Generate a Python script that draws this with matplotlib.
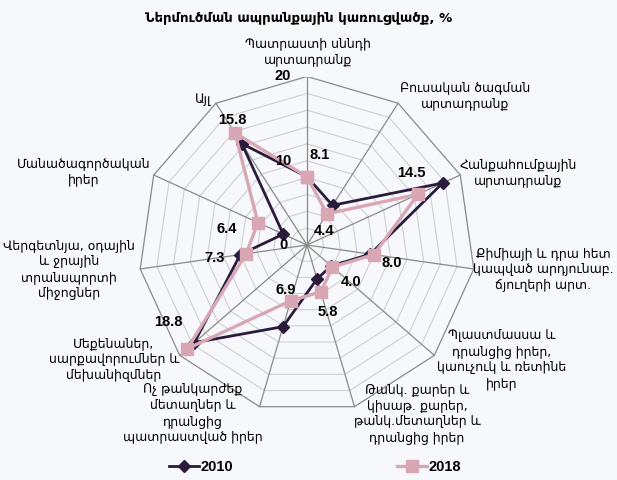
import numpy as np
import matplotlib
matplotlib.use("Agg")
import matplotlib.pyplot as plt

plt.rcParams['font.family'] = ['DejaVu Sans']

# data (share of imports, %)
categories = [
    "Պատրաստի սննդի\nարտադրանք",
    "Բուսական ծագման\nարտադրանք",
    "Հանքահումքային\nարտադրանք",
    "Քիմիայի և դրա հետ\nկապված արդյունաբ.\nճյուղերի արտ.",
    "Պլաստմասսա և\nդրանցից իրեր,\nկաուչուկ և ռետինե\nիրեր",
    "Թանկ. քարեր և\nկիսաթ. քարեր,\nթանկ.մետաղներ և\nդրանցից իրեր",
    "Ոչ թանկարժեք\nմետաղներ և\nդրանցից\nպատրաստված իրեր",
    "Մեքենաներ,\nսարքավորումներ և\nմեխանիզմներ",
    "Վերգետնյա, օդային\nև ջրային\nտրանսպորտի\nմիջոցներ",
    "Մանածագործական\nիրեր",
    "Այլ",
]
v2010 = [8.1, 5.6, 17.7, 7.6, 3.8, 4.2, 10.1, 17.7, 8.0, 3.1, 14.3]
v2018 = [8.1, 4.4, 14.5, 8.0, 4.0, 5.8, 6.9, 18.8, 7.3, 6.4, 15.8]
rticks = [0, 10, 20]
rmax = 20
title = "Ներմուծման ապրանքային կառուցվածք, %"

W, H = 617, 480
fig = plt.figure(figsize=(W / 100, H / 100), dpi=100)
bg = '#f6f8fc'
fig.patch.set_facecolor(bg)

cx, cy, R = 307, 245, 168.5  # centre and radius in pixels
ax = fig.add_axes([(cx - R) / W, (H - cy - R) / H, 2 * R / W, 2 * R / H])
ax.set_xlim(-rmax, rmax)
ax.set_ylim(-rmax, rmax)
ax.axis('off')

n = len(categories)
ang = np.pi / 2 - np.arange(n) * 2 * np.pi / n
ang_c = np.append(ang, ang[0])

# grid: rings every 2, outer ring darker
for r in np.arange(2, rmax, 2):
    ax.plot(r * np.cos(ang_c), r * np.sin(ang_c), color='#cfcfcf', lw=0.8, zorder=1)
ax.plot(rmax * np.cos(ang_c), rmax * np.sin(ang_c), color='#8a8a8a', lw=0.9, zorder=1)
for a in ang:
    ax.plot([0, rmax * np.cos(a)], [0, rmax * np.sin(a)], color='#8a8a8a', lw=0.9, zorder=1)

dark = '#2a1b3d'
pink = '#d9a6b4'
d10 = np.append(v2010, v2010[0])
d18 = np.append(v2018, v2018[0])
l1, = ax.plot(d10 * np.cos(ang_c), d10 * np.sin(ang_c), color=dark, lw=2.0,
              marker='D', ms=6, zorder=3, label='2010')
l2, = ax.plot(d18 * np.cos(ang_c), d18 * np.sin(ang_c), color=pink, lw=2.4,
              marker='s', ms=9, zorder=4, label='2018')

numfont = dict(family='Liberation Sans', weight='bold', size=10.5)

# radial tick labels
for t in rticks:
    ax.annotate(str(t), (0, t), xytext=(-24, 0), textcoords='offset pixels',
                ha='center', va='center', zorder=6, **numfont)

# value labels for 2018 (pixel offsets)
offs = [(13, 22), (-3, -17), (-7, 21), (18, -8), (19, -15), (7, -20),
        (-5, 11), (-19, 27), (-32, -4), (-31, -6), (-3, 13)]
for v, a, (ox, oy) in zip(v2018, ang, offs):
    ax.annotate(f"{v:.1f}", (v * np.cos(a), v * np.sin(a)), xytext=(ox, oy),
                textcoords='offset pixels', ha='center', va='center', zorder=6, **numfont)

# category labels (pixel centres)
lab_pos = [(308, 52), (465, 96), (518, 173), (543, 270), (502, 360), (417, 414),
           (193, 414), (114, 360), (69, 270), (84, 172), (203, 100)]
for txt, (px, py) in zip(categories, lab_pos):
    fig.text(px / W, 1 - py / H, txt, ha='center', va='center', fontsize=9,
             linespacing=1.3)

fig.text(299 / W, 1 - 18 / H, title, ha='center', va='center', fontsize=9.5,
         weight='bold')

fig.legend(handles=[l1, l2], loc='center', bbox_to_anchor=(315 / W, 1 - 467 / H),
           ncol=2, frameon=False, columnspacing=11.3, handlelength=2.0,
           handletextpad=0.1, borderpad=0, prop=dict(family='Liberation Sans', weight='bold', size=10.5))

fig.savefig("out.png", dpi=100, facecolor=bg)
